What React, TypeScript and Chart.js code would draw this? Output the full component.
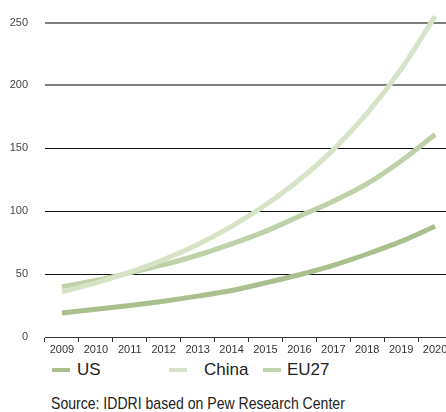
import React, { useEffect, useRef } from "react";
import { Chart, registerables } from "chart.js";

Chart.register(...registerables);

const years = ["2009", "2010", "2011", "2012", "2013", "2014", "2015", "2016", "2017", "2018", "2019", "2020"];
const usValues = [19, 22, 25, 28.5, 32.5, 37, 43, 49.5, 57, 66, 76, 88];
const chinaValues = [36, 43, 51.5, 61.5, 73.5, 88, 105, 125, 149, 178, 213, 255];
const eu27Values = [40, 45, 51, 57.5, 65, 74, 84, 96, 108, 122, 140, 161];
const yTicks = [0, 50, 100, 150, 200, 250];

const US_COLOR = "#a9c08e";
const CHINA_COLOR = "#d7e3c7";
const EU_COLOR = "#bed1a8";

const FONT = "'Liberation Sans', Arial, sans-serif";

export default function App() {
  const canvasRef = useRef<HTMLCanvasElement | null>(null);

  useEffect(() => {
    if (!canvasRef.current) return;
    const chart = new Chart(canvasRef.current, {
      type: "line",
      data: {
        labels: years,
        datasets: [
          { label: "US", data: usValues, borderColor: US_COLOR, backgroundColor: US_COLOR },
          { label: "China", data: chinaValues, borderColor: CHINA_COLOR, backgroundColor: CHINA_COLOR },
          { label: "EU27", data: eu27Values, borderColor: EU_COLOR, backgroundColor: EU_COLOR },
        ].map((d) => ({
          ...d,
          borderWidth: 5,
          pointRadius: 0,
          pointHoverRadius: 0,
          tension: 0.4,
          cubicInterpolationMode: "monotone" as const,
          fill: false,
        })),
      },
      options: {
        animation: false,
        responsive: false,
        maintainAspectRatio: false,
        layout: { padding: { top: 10, left: 0, right: 0, bottom: 0 } },
        plugins: {
          legend: { display: false },
          tooltip: { enabled: false },
        },
        scales: {
          x: {
            type: "category",
            offset: true,
            grid: {
              display: true,
              offset: true,
              drawOnChartArea: false,
              drawTicks: true,
              tickLength: 5,
              color: "#333333",
              lineWidth: 1,
            },
            border: { display: true, color: "#333333", width: 1 },
            ticks: {
              padding: 1,
              color: "#333333",
              font: { family: FONT, size: 11 },
              maxRotation: 0,
              autoSkip: false,
            },
            afterFit: (axis: any) => {
              axis.height = 23;
            },
          },
          y: {
            min: 0,
            max: 260,
            afterBuildTicks: (axis: any) => {
              axis.ticks = yTicks.map((v) => ({ value: v }));
            },
            grid: {
              drawTicks: true,
              tickLength: 17,
              tickColor: "rgba(0,0,0,0)",
              color: (ctx: any) => {
                const v = ctx.tick ? ctx.tick.value : 0;
                if (v === 0) return "rgba(0,0,0,0)";
                return v >= 200 ? "#7f7f7f" : "#111111";
              },
              lineWidth: (ctx: any) => {
                const v = ctx.tick ? ctx.tick.value : 0;
                if (v === 0) return 0;
                return v >= 200 ? 2 : 1;
              },
            },
            border: { display: false },
            ticks: {
              padding: 0,
              color: "#444444",
              font: { family: FONT, size: 11 },
            },
            afterFit: (axis: any) => {
              axis.width = 45;
              axis.paddingTop = 0;
              axis.paddingBottom = 0;
            },
          },
        },
      },
    });
    return () => chart.destroy();
  }, []);

  const swatch = (left: number, color: string): React.CSSProperties => ({
    position: "absolute",
    left,
    top: 368,
    width: 18,
    height: 4,
    background: color,
  });
  const legendText = (left: number): React.CSSProperties => ({
    position: "absolute",
    left,
    top: 360,
    fontFamily: FONT,
    fontSize: 17,
    lineHeight: "19px",
    color: "#222222",
    whiteSpace: "nowrap",
  });

  return (
    <div
      style={{
        position: "absolute",
        left: 0,
        top: 0,
        width: 446,
        height: 412,
        overflow: "hidden",
        background: "#ffffff",
      }}
    >
      <div style={{ position: "absolute", left: 0, top: 0, width: 452, height: 360 }}>
        <canvas ref={canvasRef} width={452} height={360} style={{ width: 452, height: 360, display: "block" }} />
      </div>
      <div style={swatch(52, US_COLOR)} />
      <div style={legendText(77)}>US</div>
      <div style={swatch(169, CHINA_COLOR)} />
      <div style={legendText(204)}>China</div>
      <div style={swatch(263, EU_COLOR)} />
      <div style={legendText(287)}>EU27</div>
      <div
        style={{
          position: "absolute",
          left: 51,
          top: 394,
          fontFamily: FONT,
          fontSize: 17,
          lineHeight: "19px",
          color: "#222222",
          whiteSpace: "nowrap",
          transform: "scaleX(0.827)",
          transformOrigin: "left top",
        }}
      >
        Source: IDDRI based on Pew Research Center
      </div>
    </div>
  );
}
